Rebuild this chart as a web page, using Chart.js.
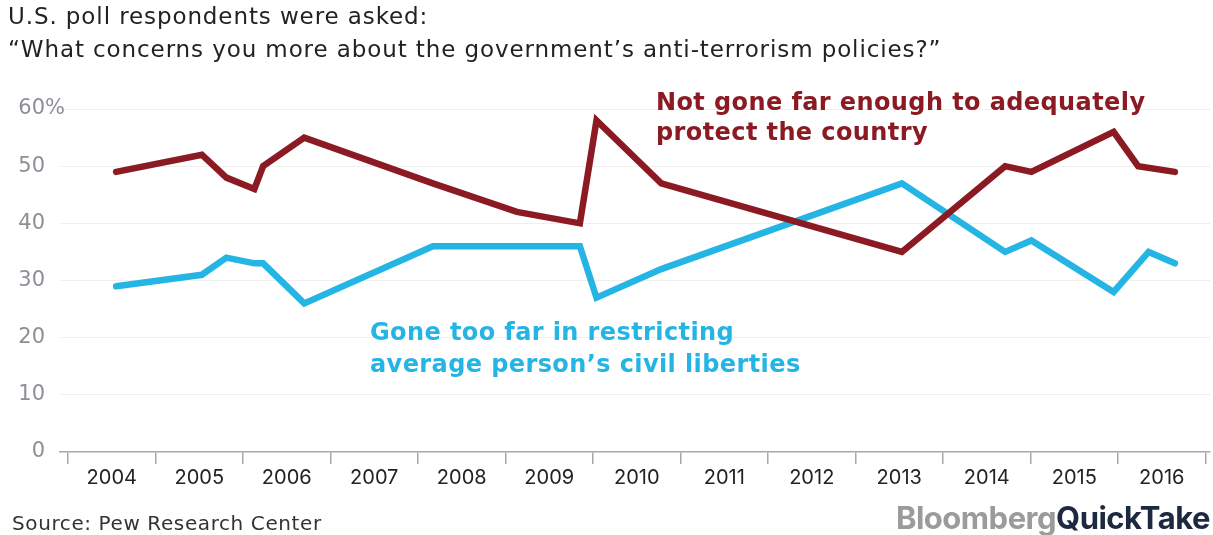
<!DOCTYPE html>
<html>
<head>
<meta charset="utf-8">
<script src="https://cdn.jsdelivr.net/npm/chart.js@4.4.1/dist/chart.umd.min.js"></script>
<style>
  html, body { margin: 0; padding: 0; background: #fff; }
  #wrap { position: relative; width: 1213px; height: 535px; overflow: hidden; font-family: "DejaVu Sans", sans-serif; }
  #c { position: absolute; left: 0; top: 0; }
  .txt { position: absolute; white-space: pre; }
  #title { left: 8px; top: 0px; font-size: 23px; line-height: 33px; letter-spacing: 0.9px; color: #222; }
  #notfar { left: 656px; top: 87px; font-size: 24px; line-height: 30px; letter-spacing: 0.4px; font-weight: 700; color: #8b1a22; }
  #toofar { left: 370px; top: 316px; font-size: 24px; line-height: 32px; letter-spacing: 0.4px; font-weight: 700; color: #25b5e5; }
  #source { left: 12px; top: 511px; font-size: 20px; line-height: 24px; letter-spacing: 0.6px; color: #333; }
  #logo { right: 3px; top: 500px; font-family: Inter, sans-serif; font-size: 31px; line-height: 36px; font-weight: 700; letter-spacing: -0.5px; }
  #logo .b { color: #9b9b9b; }
  #logo .q { color: #1d2940; }
</style>
</head>
<body>
<div id="wrap">
  <canvas id="c" width="1213" height="535"></canvas>
  <div class="txt" id="title">U.S. poll respondents were asked:
“What concerns you more about the government’s anti-terrorism policies?”</div>
  <div class="txt" id="notfar">Not gone far enough to adequately
protect the country</div>
  <div class="txt" id="toofar">Gone too far in restricting
average person’s civil liberties</div>
  <div class="txt" id="source">Source: Pew Research Center</div>
  <div class="txt" id="logo"><span class="b">Bloomberg</span><span class="q">QuickTake</span></div>
</div>
<script>
// ---- data (survey dates as decimal years) ----
const notFarDates  = [2004.55, 2005.53, 2005.81, 2006.13, 2006.23, 2006.70, 2008.17, 2009.13, 2009.85, 2010.04, 2010.78, 2013.53, 2014.71, 2015.01, 2015.95, 2016.23, 2016.65];
const notFarValues = [49, 52, 48, 46, 50, 55, 47, 42, 40, 58, 47, 35, 50, 49, 56, 50, 49];
const tooFarDates  = [2004.55, 2005.53, 2005.81, 2006.13, 2006.23, 2006.70, 2008.17, 2009.85, 2010.04, 2010.78, 2013.53, 2014.71, 2015.01, 2015.95, 2016.35, 2016.65];
const tooFarValues = [29, 31, 34, 33, 33, 26, 36, 36, 27, 32, 47, 35, 37, 28, 35, 33];
const yearLabels = ["2004","2005","2006","2007","2008","2009","2010","2011","2012","2013","2014","2015","2016"];
const yTicks = [0, 10, 20, 30, 40, 50, 60];

const firstYear = 2004, lastYear = 2017;

function toPoints(xs, ys) { return xs.map((x, i) => ({ x: x, y: ys[i] })); }

const yLabelPlugin = {
  id: 'yLabels',
  afterDraw(chart) {
    const ctx = chart.ctx, ys = chart.scales.y;
    ctx.save();
    ctx.font = '21px "DejaVu Sans", sans-serif';
    ctx.fillStyle = '#8e8e96';
    ctx.textBaseline = 'middle';
    yTicks.forEach(v => {
      const py = ys.getPixelForValue(v);
      ctx.textAlign = 'right';
      ctx.fillText(String(v), 45, py);
      if (v === yTicks[yTicks.length - 1]) {
        ctx.textAlign = 'left';
        ctx.fillText('%', 45, py);
      }
    });
    ctx.restore();
  }
};

new Chart(document.getElementById('c'), {
  type: 'line',
  data: {
    datasets: [
      { data: toPoints(notFarDates, notFarValues), borderColor: '#8b1a22', borderWidth: 6.5, pointRadius: 0, tension: 0, borderJoinStyle: 'miter', borderCapStyle: 'round', fill: false },
      { data: toPoints(tooFarDates, tooFarValues), borderColor: '#25b5e5', borderWidth: 6.5, pointRadius: 0, tension: 0, borderJoinStyle: 'miter', borderCapStyle: 'round', fill: false }
    ]
  },
  options: {
    responsive: false,
    animation: false,
    events: [],
    layout: { padding: { left: 60, right: 3, top: 109, bottom: 43 } },
    plugins: { legend: { display: false }, tooltip: { enabled: false } },
    scales: {
      x: {
        type: 'linear',
        min: firstYear - 8 / 87.5,
        max: firstYear + 1142 / 87.5,
        afterBuildTicks(scale) {
          const t = [];
          for (let y = firstYear; y <= lastYear; y++) {
            t.push({ value: y });
            if (y < lastYear) t.push({ value: y + 0.5 });
          }
          scale.ticks = t;
        },
        grid: {
          display: true,
          drawOnChartArea: false,
          drawTicks: true,
          tickLength: 12,
          lineWidth: 1.5,
          tickColor: ctx => (ctx.tick && Number.isInteger(ctx.tick.value)) ? '#a8a8a8' : 'rgba(0,0,0,0)'
        },
        border: { display: true, color: '#a8a8a8', width: 1.5 },
        ticks: {
          autoSkip: false,
          maxRotation: 0,
          padding: 2,
          color: '#222',
          font: { size: 20, family: 'Inter, "Open Sans", sans-serif' },
          callback: v => Number.isInteger(v) ? '' : yearLabels[Math.floor(v) - firstYear]
        }
      },
      y: {
        min: 0,
        max: 60,
        ticks: { display: false, stepSize: 10 },
        grid: { color: ctx => ctx.tick && ctx.tick.value === 0 ? 'rgba(0,0,0,0)' : '#efefef', lineWidth: 1, drawTicks: false },
        border: { display: false }
      }
    }
  },
  plugins: [yLabelPlugin]
});
</script>
</body>
</html>
